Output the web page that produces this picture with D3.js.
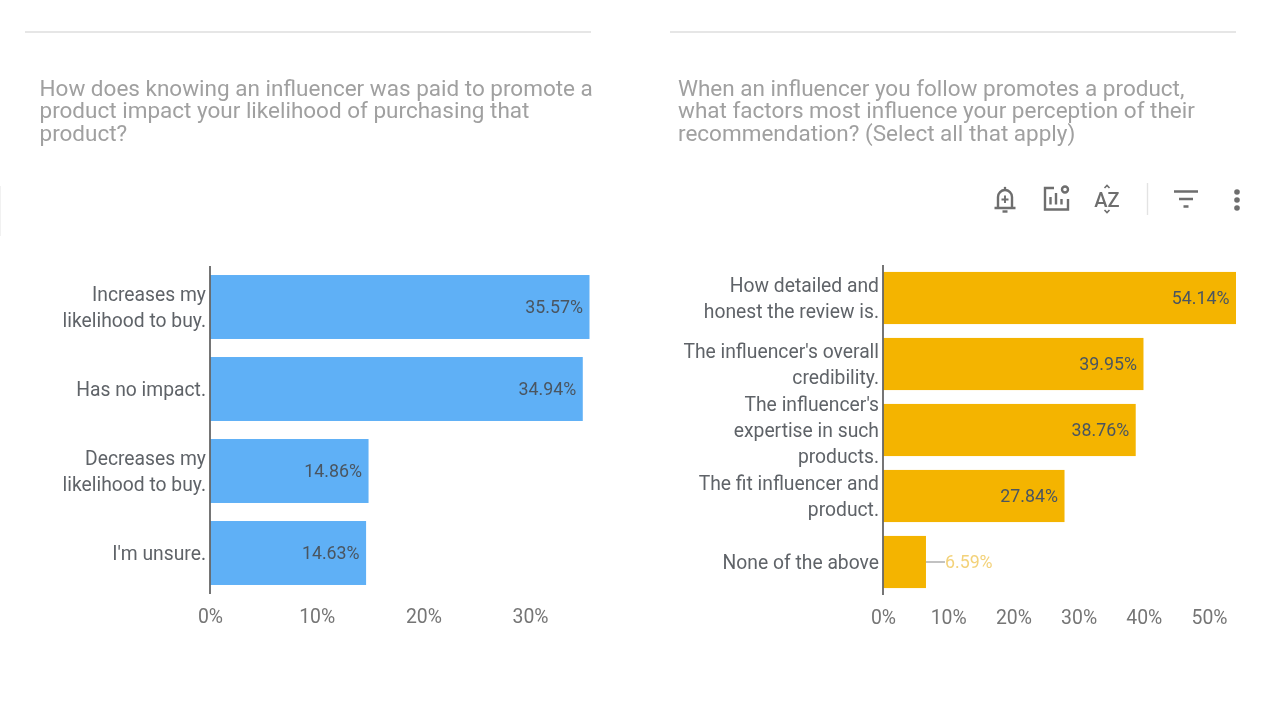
<!DOCTYPE html>
<html>
<head>
<meta charset="utf-8">
<script src="https://cdn.jsdelivr.net/npm/d3@7"></script>
<style>
html,body{margin:0;padding:0;background:#fff;overflow:hidden}
text{font-family:Roboto,sans-serif}
#chart{filter:blur(0.45px)}
</style>
</head>
<body>
<svg id="chart" width="1280" height="723"></svg>
<script>
var leftTitle = ["How does knowing an influencer was paid to promote a", "product impact your likelihood of purchasing that", "product?"];
var leftCategories = [["Increases my", "likelihood to buy."], ["Has no impact."], ["Decreases my", "likelihood to buy."], ["I'm unsure."]];
var leftValues = [35.57, 34.94, 14.86, 14.63];
var leftTicks = [0, 10, 20, 30];

var rightTitle = ["When an influencer you follow promotes a product,", "what factors most influence your perception of their", "recommendation? (Select all that apply)"];
var rightCategories = [["How detailed and", "honest the review is."], ["The influencer's overall", "credibility."], ["The influencer's", "expertise in such", "products."], ["The fit influencer and", "product."], ["None of the above"]];
var rightValues = [54.14, 39.95, 38.76, 27.84, 6.59];
var rightTicks = [0, 10, 20, 30, 40, 50];

var svg = d3.select("#chart");

function drawPanel(o) {
	var g = svg.append("g");

	// rule on top of the card
	g.append("line")
		.attr("x1", o.ruleX[0]).attr("x2", o.ruleX[1])
		.attr("y1", o.ruleY).attr("y2", o.ruleY)
		.attr("stroke", "#e6e6e6").attr("stroke-width", 2);

	g.append("g").selectAll("text")
		.data(o.title)
		.enter().append("text")
		.attr("x", o.titleX)
		.attr("y", function (d, i) { return o.titleY + i * 22.4; })
		.attr("font-size", o.titleSize)
		.attr("fill", "#a0a0a0")
		.text(function (d) { return d; });

	var x = d3.scaleLinear().domain([0, o.maxValue]).range([o.x0, o.x1]);
	var y = d3.scaleBand().domain(d3.range(o.values.length))
		.range(o.yRange).paddingInner(o.pad).paddingOuter(o.pad / 2);

	g.append("g").selectAll("rect")
		.data(o.values)
		.enter().append("rect")
		.attr("x", x(0))
		.attr("y", function (d, i) { return y(i); })
		.attr("width", function (d) { return x(d) - x(0); })
		.attr("height", y.bandwidth())
		.attr("fill", o.color);

	// axis line at zero
	g.append("line")
		.attr("x1", x(0)).attr("x2", x(0))
		.attr("y1", o.yRange[0]).attr("y2", o.yRange[1])
		.attr("stroke", "#666").attr("stroke-width", 1.8);

	var axis = g.append("g")
		.attr("transform", "translate(0," + o.yRange[1] + ")")
		.call(d3.axisBottom(x).tickValues(o.ticks).tickSize(0).tickPadding(15).tickFormat(function (d) { return d + "%"; }));
	axis.select(".domain").remove();
	axis.selectAll("text")
		.attr("font-size", 19.4)
		.attr("font-family", "Roboto,sans-serif")
		.attr("fill", "#757575");

	// category labels, right aligned against the axis
	var labels = g.append("g").selectAll("text")
		.data(o.categories)
		.enter().append("text")
		.attr("text-anchor", "end")
		.attr("font-size", 19.3)
		.attr("fill", "#5f6368");
	labels.each(function (lines, i) {
		var mid = y(i) + y.bandwidth() / 2;
		var lh = o.lineHeight;
		d3.select(this).selectAll("tspan")
			.data(lines)
			.enter().append("tspan")
			.attr("x", x(0) - 4)
			.attr("y", function (d, k) { return mid + 7 + (k - (lines.length - 1) / 2) * lh; })
			.text(function (d) { return d; });
	});

	// value labels, outside with a leader when the bar is too short
	g.append("g").selectAll("text")
		.data(o.values)
		.enter().append("text")
		.attr("x", function (d) { return d < 10 ? x(d) + 19 : x(d) - 6.5; })
		.attr("y", function (d, i) { return y(i) + y.bandwidth() / 2 + 6; })
		.attr("text-anchor", function (d) { return d < 10 ? "start" : "end"; })
		.attr("font-size", 17.8)
		.attr("fill", function (d) { return d < 10 ? "#f3d27a" : "#4a5560"; })
		.text(function (d) { return d.toFixed(2) + "%"; });

	g.append("g").selectAll("line")
		.data(o.values.filter(function (d) { return d < 10; }))
		.enter().append("line")
		.attr("x1", function (d) { return x(d); })
		.attr("x2", function (d) { return x(d) + 19; })
		.attr("y1", y(o.values.length - 1) + y.bandwidth() / 2)
		.attr("y2", y(o.values.length - 1) + y.bandwidth() / 2)
		.attr("stroke", "#a8a8a8").attr("stroke-width", 1.4);
}

drawPanel({
	ruleX: [25, 591], ruleY: 32,
	title: leftTitle, titleX: 39.5, titleY: 96, titleSize: 22.5,
	categories: leftCategories, values: leftValues, ticks: leftTicks,
	maxValue: 35.57, x0: 210, x1: 589.5,
	yRange: [266, 594], pad: 0.22, lineHeight: 26,
	color: "#5fb0f6"
});

drawPanel({
	ruleX: [670, 1236], ruleY: 32,
	title: rightTitle, titleX: 678, titleY: 96, titleSize: 22.5,
	categories: rightCategories, values: rightValues, ticks: rightTicks,
	maxValue: 54.14, x0: 883, x1: 1236,
	yRange: [265, 595], pad: 0.21, lineHeight: 26,
	color: "#f4b400"
});

// faint edge mark at the far left of the picture
svg.append("line").attr("x1", 0).attr("x2", 0).attr("y1", 186).attr("y2", 236)
	.attr("stroke", "#ededed").attr("stroke-width", 1.5);

// toolbar icons above the right chart
var tb = svg.append("g").attr("fill", "none").attr("stroke", "#6e6e6e").attr("stroke-width", 2.4);

// bell with plus
tb.append("path").attr("d", "M994.5 208 H1015.5 M998 207 V197 A7 7 0 0 1 1012 197 V207");
tb.append("path").attr("d", "M1005 195.5 V203 M1001.5 199.5 H1008.5").attr("stroke-width", 1.9);
tb.append("path").attr("d", "M1002.5 211.5 H1007.5");
tb.append("circle").attr("cx", 1005).attr("cy", 188).attr("r", 1.3).attr("fill", "#6e6e6e").attr("stroke", "none");

// chart with gear
tb.append("path").attr("d", "M1054 188 H1045 V209.5 H1068 V199");
tb.append("path").attr("d", "M1050.5 204.5 V197 M1056 204.5 V193 M1061.5 204.5 V199");
tb.append("circle").attr("cx", 1065).attr("cy", 189.5).attr("r", 3);

// A-Z sort
tb.append("text").attr("x", 1107).attr("y", 207).attr("text-anchor", "middle")
	.attr("font-size", 20).attr("font-weight", 500)
	.attr("fill", "#6e6e6e").attr("stroke", "none").text("AZ");
tb.append("path").attr("d", "M1104.5 188 L1107 185.5 L1109.5 188 M1104.5 210 L1107 212.5 L1109.5 210").attr("stroke-width", 1.6);

// separator
svg.append("line").attr("x1", 1147.5).attr("x2", 1147.5).attr("y1", 183).attr("y2", 215)
	.attr("stroke", "#e3e3e3").attr("stroke-width", 1.4);

// filter
tb.append("path").attr("d", "M1174 191.5 H1198 M1179 199 H1193 M1183.5 206.5 H1188.5");

// kebab menu
tb.append("g").selectAll("circle")
	.data([192, 200, 208])
	.enter().append("circle")
	.attr("cx", 1237).attr("cy", function (d) { return d; }).attr("r", 2.8)
	.attr("fill", "#6e6e6e").attr("stroke", "none");
</script>
</body>
</html>
